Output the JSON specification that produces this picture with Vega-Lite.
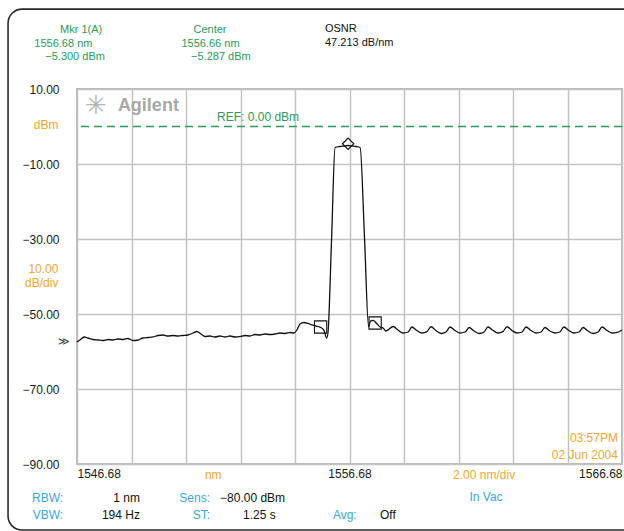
{
  "$schema": "https://vega.github.io/schema/vega-lite/v6.json",
  "width": 545,
  "height": 375,
  "autosize": "none",
  "padding": {"left": 77, "top": 89, "right": 2, "bottom": 67},
  "background": "white",
  "config": {"view": {"stroke": "#bababa", "strokeWidth": 2}, "font": "Liberation Sans"},
  "data": {"values": [{}]},
  "datasets": {
    "trace": [
      {"nm":1546.68,"db":-57.47},{"nm":1546.79,"db":-56.93},{"nm":1546.94,"db":-56.13},{"nm":1547.08,"db":-56.40},{"nm":1547.27,"db":-56.80},{"nm":1547.45,"db":-56.93},{"nm":1547.63,"db":-57.07},{"nm":1547.82,"db":-56.80},{"nm":1548.00,"db":-56.93},{"nm":1548.18,"db":-56.67},{"nm":1548.37,"db":-56.80},{"nm":1548.55,"db":-56.53},{"nm":1548.73,"db":-57.07},{"nm":1548.92,"db":-56.93},{"nm":1549.10,"db":-56.40},{"nm":1549.29,"db":-56.27},{"nm":1549.47,"db":-56.13},{"nm":1549.65,"db":-55.73},{"nm":1549.84,"db":-55.60},{"nm":1550.02,"db":-55.87},{"nm":1550.20,"db":-55.73},{"nm":1550.39,"db":-55.87},{"nm":1550.57,"db":-55.73},{"nm":1550.75,"db":-55.60},{"nm":1550.94,"db":-55.07},{"nm":1551.08,"db":-54.67},{"nm":1551.23,"db":-55.33},{"nm":1551.38,"db":-56.00},{"nm":1551.56,"db":-55.87},{"nm":1551.74,"db":-56.13},{"nm":1551.93,"db":-55.87},{"nm":1552.11,"db":-56.13},{"nm":1552.29,"db":-55.87},{"nm":1552.48,"db":-56.13},{"nm":1552.66,"db":-56.00},{"nm":1552.85,"db":-55.73},{"nm":1553.03,"db":-55.87},{"nm":1553.21,"db":-55.47},{"nm":1553.40,"db":-55.60},{"nm":1553.58,"db":-55.33},{"nm":1553.76,"db":-55.47},{"nm":1553.95,"db":-55.33},{"nm":1554.13,"db":-55.07},{"nm":1554.31,"db":-55.20},{"nm":1554.50,"db":-54.93},{"nm":1554.64,"db":-55.07},{"nm":1554.75,"db":-54.27},{"nm":1554.86,"db":-52.67},{"nm":1555.01,"db":-52.27},{"nm":1555.16,"db":-52.53},{"nm":1555.30,"db":-52.93},{"nm":1555.45,"db":-53.20},{"nm":1555.60,"db":-53.50},{"nm":1555.74,"db":-54.30},{"nm":1555.84,"db":-56.40},{"nm":1555.89,"db":-55.00},{"nm":1556.02,"db":-30.5},{"nm":1556.15,"db":-5.60},{"nm":1556.33,"db":-5.33},{"nm":1556.48,"db":-5.20},{"nm":1556.62,"db":-5.07},{"nm":1556.77,"db":-5.20},{"nm":1556.92,"db":-5.33},{"nm":1557.07,"db":-5.60},{"nm":1557.23,"db":-29.5},{"nm":1557.38,"db":-53.40},{"nm":1557.45,"db":-51.90},{"nm":1557.55,"db":-51.70},{"nm":1557.66,"db":-52.40},{"nm":1557.80,"db":-53.47},{"nm":1557.91,"db":-53.73},
      {"nm":1558.02,"db":-54.53},{"nm":1558.28,"db":-53.33},{"nm":1558.46,"db":-54.27},{"nm":1558.64,"db":-55.07},{"nm":1558.83,"db":-54.80},{"nm":1558.97,"db":-53.47},{"nm":1559.15,"db":-54.40},{"nm":1559.34,"db":-55.07},{"nm":1559.52,"db":-54.70},{"nm":1559.67,"db":-53.40},{"nm":1559.85,"db":-54.40},{"nm":1560.04,"db":-55.20},{"nm":1560.22,"db":-54.80},{"nm":1560.37,"db":-53.47},{"nm":1560.55,"db":-54.40},{"nm":1560.73,"db":-55.07},{"nm":1560.92,"db":-54.80},{"nm":1561.07,"db":-53.60},{"nm":1561.25,"db":-54.53},{"nm":1561.43,"db":-55.20},{"nm":1561.62,"db":-54.80},{"nm":1561.76,"db":-53.47},{"nm":1561.95,"db":-54.40},{"nm":1562.13,"db":-55.07},{"nm":1562.31,"db":-54.70},{"nm":1562.46,"db":-53.40},{"nm":1562.64,"db":-54.40},{"nm":1562.83,"db":-55.07},{"nm":1563.01,"db":-54.80},{"nm":1563.16,"db":-53.47},{"nm":1563.34,"db":-54.40},{"nm":1563.52,"db":-55.07},{"nm":1563.71,"db":-54.80},{"nm":1563.85,"db":-53.60},{"nm":1564.04,"db":-54.53},{"nm":1564.22,"db":-55.07},{"nm":1564.40,"db":-54.80},{"nm":1564.55,"db":-53.47},{"nm":1564.73,"db":-54.40},{"nm":1564.92,"db":-55.07},{"nm":1565.10,"db":-54.80},{"nm":1565.25,"db":-53.60},{"nm":1565.43,"db":-54.53},{"nm":1565.61,"db":-55.20},{"nm":1565.80,"db":-54.80},{"nm":1565.95,"db":-53.47},{"nm":1566.13,"db":-54.40},{"nm":1566.31,"db":-55.07},{"nm":1566.50,"db":-54.93},{"nm":1566.68,"db":-54.27}
    ],
    "markers": [
      {"nm":1555.62,"db":-53.47,"kind":"square"},
      {"nm":1557.62,"db":-52.40,"kind":"square"},
      {"nm":1556.63,"db":-4.60,"kind":"diamond"}
    ]
  },
  "layer": [
    {
      "mark": {"type": "rect", "fillOpacity": 0, "stroke": "#2a2a2a", "strokeWidth": 1.6, "cornerRadius": 14},
      "encoding": {
        "x": {"datum": 1544.15}, "x2": {"datum": 1567.6},
        "y": {"datum": 31.3}, "y2": {"datum": -107.6}
      }
    },
    {
      "data": {"name": "trace"},
      "mark": {"type": "line", "color": "#111111", "strokeWidth": 1.3, "interpolate": "monotone"},
      "encoding": {
        "x": {
          "field": "nm", "type": "quantitative",
          "scale": {"domain": [1546.68, 1566.68], "nice": false, "zero": false},
          "axis": {
            "title": null,
            "values": [1546.68, 1548.68, 1550.68, 1552.68, 1554.68, 1556.68, 1558.68, 1560.68, 1562.68, 1564.68, 1566.68],
            "labelExpr": "abs(datum.value - 1546.68) < 0.01 || abs(datum.value - 1556.68) < 0.01 || abs(datum.value - 1566.68) < 0.01 ? format(datum.value, '.2f') : ''",
            "labelFlush": true, "labelOverlap": false, "labelFontSize": 12, "labelColor": "#1a1a1a",
            "labelPadding": 4, "ticks": false, "domain": false,
            "grid": true, "gridColor": "#c2c2c2", "gridWidth": 1.5
          }
        },
        "y": {
          "field": "db", "type": "quantitative",
          "scale": {"domain": [-90, 10], "nice": false, "zero": false},
          "axis": {
            "title": null,
            "values": [10, 0, -10, -20, -30, -40, -50, -60, -70, -80, -90],
            "labelExpr": "(datum.value == 0 || datum.value == -20 || datum.value == -40 || datum.value == -60 || datum.value == -80) ? '' : format(datum.value, '.2f')",
            "labelColor": "#1a1a1a",
            "labelOverlap": false, "labelFontSize": 12, "labelPadding": 18,
            "ticks": false, "domain": false,
            "grid": true, "gridColor": "#c2c2c2", "gridWidth": 1.5
          }
        }
      }
    },
    {
      "mark": {"type": "rule", "color": "#2e9a5a", "strokeDash": [8, 5], "strokeWidth": 1.3},
      "encoding": {"y": {"datum": 0}}
    },
    {
      "data": {"name": "markers"},
      "mark": {"type": "point", "filled": false, "stroke": "#111111", "strokeWidth": 1.1, "opacity": 1},
      "encoding": {
        "x": {"field": "nm", "type": "quantitative"},
        "y": {"field": "db", "type": "quantitative"},
        "shape": {"field": "kind", "type": "nominal", "scale": {"domain": ["square", "diamond"], "range": ["square", "diamond"]}, "legend": null},
        "size": {"field": "kind", "type": "nominal", "scale": {"domain": ["square", "diamond"], "range": [150, 130]}, "legend": null}
      }
    },
    {
      "mark": {"type": "text", "text": "dBm", "fontSize": 12, "color": "#f0a830", "align": "right", "baseline": "middle"},
      "encoding": {"x": {"datum": 1546.0}, "y": {"datum": 0.3}}
    },
    {
      "mark": {"type": "text", "text": ["10.00", "dB/div"], "lineHeight": 14, "fontSize": 12, "color": "#f0a830", "align": "right", "baseline": "middle"},
      "encoding": {"x": {"datum": 1546.0}, "y": {"datum": -38.0}}
    },
    {
      "mark": {"type": "text", "text": "✳", "fontSize": 26, "color": "#b4b4b4", "font": "DejaVu Sans", "align": "center", "baseline": "middle"},
      "encoding": {"x": {"datum": 1547.38}, "y": {"datum": 5.4}}
    },
    {
      "mark": {"type": "text", "text": "Agilent", "fontSize": 18, "fontWeight": "bold", "color": "#a8a8a8", "align": "left", "baseline": "middle"},
      "encoding": {"x": {"datum": 1548.18}, "y": {"datum": 5.47}}
    },
    {
      "mark": {"type": "text", "text": "REF: 0.00 dBm", "fontSize": 12, "color": "#2e9a5a", "align": "left", "baseline": "middle"},
      "encoding": {"x": {"datum": 1551.82}, "y": {"datum": 2.5}}
    },
    {
      "mark": {"type": "text", "text": "≫", "fontSize": 11, "color": "#333333", "align": "center", "baseline": "middle"},
      "encoding": {"x": {"datum": 1546.2}, "y": {"datum": -57.47}}
    },
    {
      "mark": {"type": "text", "text": "Mkr 1(A)", "fontSize": 11, "color": "#2e9a5a", "align": "center", "baseline": "middle"},
      "encoding": {"x": {"datum": 1546.83}, "y": {"datum": 25.7}}
    },
    {
      "mark": {"type": "text", "text": "1556.68 nm", "fontSize": 11, "color": "#2e9a5a", "align": "center", "baseline": "middle"},
      "encoding": {"x": {"datum": 1546.18}, "y": {"datum": 22.0}}
    },
    {
      "mark": {"type": "text", "text": "−5.300 dBm", "fontSize": 11, "color": "#2e9a5a", "align": "center", "baseline": "middle"},
      "encoding": {"x": {"datum": 1546.61}, "y": {"datum": 18.5}}
    },
    {
      "mark": {"type": "text", "text": "Center", "fontSize": 11, "color": "#2e9a5a", "align": "center", "baseline": "middle"},
      "encoding": {"x": {"datum": 1551.56}, "y": {"datum": 25.7}}
    },
    {
      "mark": {"type": "text", "text": "1556.66 nm", "fontSize": 11, "color": "#2e9a5a", "align": "center", "baseline": "middle"},
      "encoding": {"x": {"datum": 1551.58}, "y": {"datum": 22.0}}
    },
    {
      "mark": {"type": "text", "text": "−5.287 dBm", "fontSize": 11, "color": "#2e9a5a", "align": "center", "baseline": "middle"},
      "encoding": {"x": {"datum": 1551.96}, "y": {"datum": 18.5}}
    },
    {
      "mark": {"type": "text", "text": ["OSNR", "47.213 dB/nm"], "lineHeight": 14, "fontSize": 11, "color": "#111111", "align": "left", "baseline": "top"},
      "encoding": {"x": {"datum": 1555.78}, "y": {"datum": 27.5}}
    },
    {
      "mark": {"type": "text", "text": "nm", "fontSize": 12, "color": "#f0a830", "align": "center", "baseline": "middle"},
      "encoding": {"x": {"datum": 1551.68}, "y": {"datum": -92.93}}
    },
    {
      "mark": {"type": "text", "text": "2.00 nm/div", "fontSize": 12, "color": "#f0a830", "align": "center", "baseline": "middle"},
      "encoding": {"x": {"datum": 1561.62}, "y": {"datum": -92.93}}
    },
    {
      "mark": {"type": "text", "text": ["03:57PM", "02 Jun 2004"], "lineHeight": 17, "fontSize": 12, "color": "#f0a830", "align": "right", "baseline": "middle"},
      "encoding": {"x": {"datum": 1566.53}, "y": {"datum": -83.07}}
    },
    {
      "mark": {"type": "text", "text": ["RBW:", "VBW:"], "lineHeight": 17, "fontSize": 12, "color": "#3aa8dc", "align": "right", "baseline": "middle"},
      "encoding": {"x": {"datum": 1546.17}, "y": {"datum": -99.07}}
    },
    {
      "mark": {"type": "text", "text": ["1 nm", "194 Hz"], "lineHeight": 17, "fontSize": 12, "color": "#111111", "align": "right", "baseline": "middle"},
      "encoding": {"x": {"datum": 1548.99}, "y": {"datum": -99.07}}
    },
    {
      "mark": {"type": "text", "text": ["Sens:", "ST:"], "lineHeight": 17, "fontSize": 12, "color": "#3aa8dc", "align": "right", "baseline": "middle"},
      "encoding": {"x": {"datum": 1551.56}, "y": {"datum": -99.07}}
    },
    {
      "mark": {"type": "text", "text": "−80.00 dBm", "fontSize": 12, "color": "#111111", "align": "left", "baseline": "middle"},
      "encoding": {"x": {"datum": 1551.93}, "y": {"datum": -99.07}}
    },
    {
      "mark": {"type": "text", "text": "1.25 s", "fontSize": 12, "color": "#111111", "align": "left", "baseline": "middle"},
      "encoding": {"x": {"datum": 1552.77}, "y": {"datum": -103.6}}
    },
    {
      "mark": {"type": "text", "text": "Avg:", "fontSize": 12, "color": "#3aa8dc", "align": "left", "baseline": "middle"},
      "encoding": {"x": {"datum": 1556.07}, "y": {"datum": -103.6}}
    },
    {
      "mark": {"type": "text", "text": "Off", "fontSize": 12, "color": "#111111", "align": "left", "baseline": "middle"},
      "encoding": {"x": {"datum": 1557.8}, "y": {"datum": -103.6}}
    },
    {
      "mark": {"type": "text", "text": "In Vac", "fontSize": 12, "color": "#3aa8dc", "align": "center", "baseline": "middle"},
      "encoding": {"x": {"datum": 1561.69}, "y": {"datum": -98.8}}
    }
  ]
}
